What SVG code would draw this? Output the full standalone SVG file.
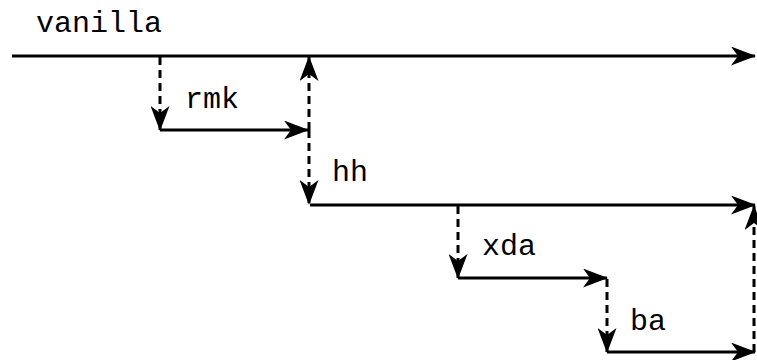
<svg xmlns="http://www.w3.org/2000/svg" width="757" height="360" viewBox="0 0 757 360">
  <defs>
    <marker id="arrow" viewBox="0 0 25 19" markerWidth="25" markerHeight="19" refX="24" refY="9.5" orient="auto" markerUnits="userSpaceOnUse">
      <path d="M0,0 L25,9.5 L0,19 L7,9.5 Z" fill="#000"/>
    </marker>
    <style>
      .branch { stroke: #000; stroke-width: 3; fill: none; marker-end: url(#arrow); }
      .merge { stroke: #000; stroke-width: 3; fill: none; stroke-dasharray: 8 5; marker-end: url(#arrow); }
      .label { font-family: "Liberation Mono", "Courier New", monospace; font-size: 30px; fill: #000; }
    </style>
  </defs>
  <rect width="757" height="360" fill="#fff"/>

  <g id="vanilla">
    <text class="label" x="36" y="32">vanilla</text>
    <line class="branch" x1="12" y1="56" x2="755" y2="56"/>
  </g>
  <g id="rmk">
    <text class="label" x="185" y="108">rmk</text>
    <line class="branch" x1="160" y1="130" x2="308" y2="130"/>
  </g>
  <g id="hh">
    <text class="label" x="332" y="181">hh</text>
    <line class="branch" x1="310" y1="205" x2="755" y2="205"/>
  </g>
  <g id="xda">
    <text class="label" x="482" y="255">xda</text>
    <line class="branch" x1="458" y1="278" x2="607" y2="278"/>
  </g>
  <g id="ba">
    <text class="label" x="630" y="330">ba</text>
    <line class="branch" x1="607" y1="352" x2="755" y2="352"/>
  </g>

  <g id="connectors">
    <line class="merge" x1="160" y1="57" x2="160" y2="130"/>
    <line class="merge" x1="309" y1="130" x2="309" y2="57"/>
    <line class="merge" x1="309" y1="130" x2="309" y2="204"/>
    <line class="merge" x1="458" y1="206" x2="458" y2="278"/>
    <line class="merge" x1="607" y1="279" x2="607" y2="352"/>
    <line class="merge" x1="754" y1="352" x2="754" y2="206"/>
  </g>
</svg>
